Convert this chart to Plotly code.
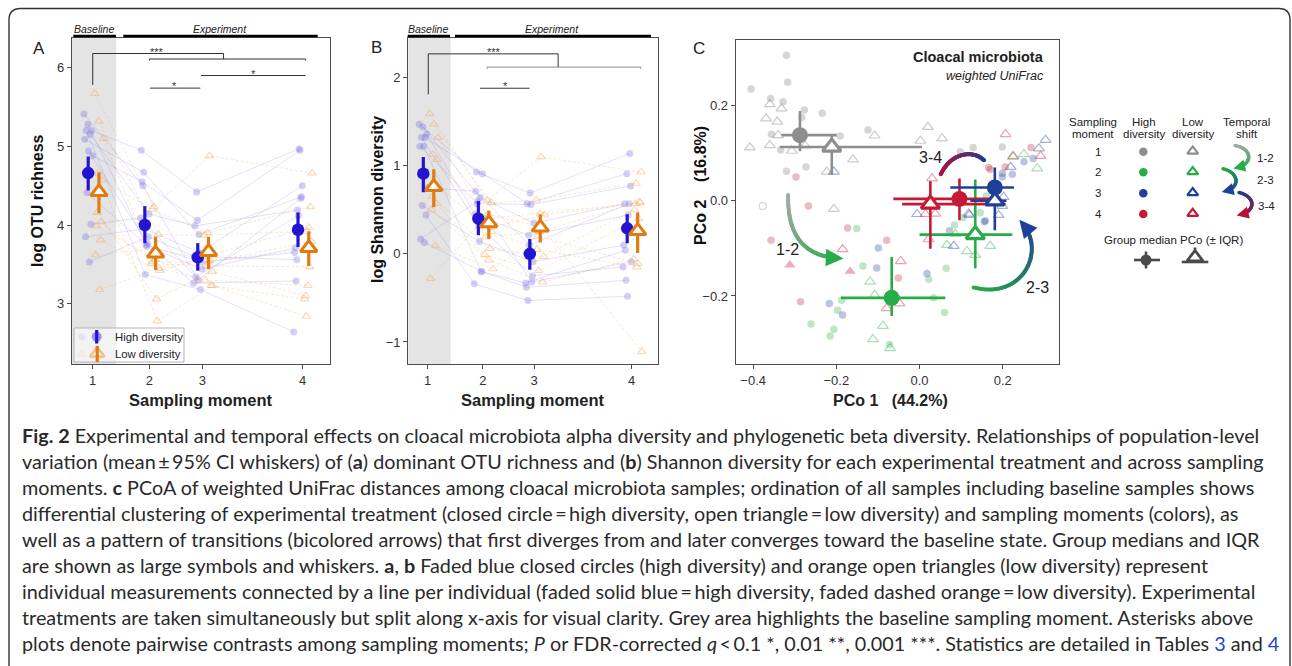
import numpy as np
import plotly.graph_objects as go

W, H = 1292, 666

# ---------------- DATA ----------------
moment_labels = ["1", "2", "3", "4"]
moment_pos = [1.0, 2.0, 2.935, 4.705]   # sampling moments are unevenly spaced in time
baseline_edge = 1.415

# Panel A: log OTU richness (mean and 95% CI)
otu_high_mean = [4.66, 4.00, 3.59, 3.94]
otu_high_lo = [4.44, 3.77, 3.42, 3.72]
otu_high_hi = [4.87, 4.24, 3.77, 4.16]
otu_low_mean = [4.42, 3.64, 3.66, 3.71]
otu_low_lo = [4.15, 3.43, 3.44, 3.48]
otu_low_hi = [4.67, 3.85, 3.85, 3.92]

# Panel A individuals (same index = same individual)
otu_high_m1 = [5.41, 5.28, 5.20, 5.20, 5.15, 5.09, 4.94, 4.88, 4.41, 4.01, 3.85, 3.53]
otu_high_m2 = [4.50, 3.73, 4.95, 3.37, 4.14, 4.67, 3.77, 4.55, 3.75, 4.09, 3.95, 3.85]
otu_high_m3 = [3.30, 3.44, 4.42, 3.18, 3.99, 3.88, 3.26, 4.06, 3.53, 3.34, 3.65, 3.60]
otu_high_m4 = [4.34, 3.71, 4.97, 2.64, 4.19, 4.36, 3.29, 4.95, 3.65, 4.12, 4.50, 3.56]
otu_low_m1 = [5.67, 5.32, 5.10, 4.66, 4.57, 4.16, 4.04, 3.99, 3.81, 3.62, 3.18]
otu_low_m2 = [4.23, 3.88, 3.53, 2.78, 4.20, 3.06, 3.51, 3.56, 3.42, 3.70, 3.45]
otu_low_m3 = [4.88, 3.87, 3.53, 3.23, 3.90, 3.41, 3.48, 3.23, 3.60, 3.55, 3.30]
otu_low_m4 = [4.66, 3.92, 3.79, 2.84, 4.23, 3.10, 3.47, 3.06, 3.97, 3.70, 3.23]

# Panel B: log Shannon diversity (mean and 95% CI)
sha_high_mean = [0.91, 0.40, 0.00, 0.29]
sha_high_lo = [0.70, 0.21, -0.18, 0.12]
sha_high_hi = [1.10, 0.60, 0.17, 0.45]
sha_low_mean = [0.76, 0.35, 0.30, 0.26]
sha_low_lo = [0.53, 0.17, 0.13, 0.01]
sha_low_hi = [0.96, 0.49, 0.45, 0.47]

sha_high_m1 = [1.47, 1.44, 1.36, 1.32, 1.32, 1.22, 1.22, 0.75, 0.55, 0.44, 0.17, 0.13]
sha_high_m2 = [0.93, 0.64, 0.45, 0.32, 0.91, 0.57, -0.20, 0.71, 0.14, -0.34, 0.60, -0.20]
sha_high_m3 = [0.69, 0.35, 0.21, -0.25, 0.57, 0.56, -0.33, 0.10, -0.09, -0.53, -0.32, -0.38]
sha_high_m4 = [1.14, 0.57, 0.44, -0.15, 0.91, 0.77, 0.04, 0.57, 0.10, -0.48, -0.09, -0.30]
sha_low_m1 = [1.59, 1.47, 1.32, 1.13, 1.07, 0.65, 0.57, 0.50, 0.09, -0.28, 0.80]
sha_low_m2 = [0.61, 0.58, 0.40, 0.30, 0.19, 0.06, -0.01, -0.07, -0.17, 0.45, 0.25]
sha_low_m3 = [1.10, 0.61, 0.46, 0.44, 0.25, -0.03, -0.19, -0.32, 0.20, 0.30, 0.05]
sha_low_m4 = [0.93, 0.80, 0.58, 0.57, 0.59, 0.50, 0.40, -0.06, -0.11, -1.11, -0.15]

# Panel C: PCoA (weighted UniFrac) sample scores
pc_m1_high_x = [-0.405, -0.320, -0.358, -0.328, -0.317, -0.277, -0.234, -0.283, -0.356, -0.334, -0.320, -0.273, -0.191, -0.124, 0.098, 0.129, 0.199]
pc_m1_high_y = [0.235, 0.306, 0.215, 0.208, 0.249, 0.191, 0.184, 0.175, 0.140, 0.107, 0.062, 0.071, 0.136, 0.149, 0.103, 0.112, 0.113]
pc_m1_low_x = [-0.360, -0.332, -0.369, -0.342, -0.340, -0.360, -0.408, -0.307, -0.275, -0.160, -0.108, 0.020, 0.002, 0.054, -0.206, -0.223]
pc_m1_low_y = [0.203, 0.194, 0.173, 0.166, 0.138, 0.117, 0.112, 0.105, 0.116, 0.087, 0.137, 0.155, 0.126, 0.131, -0.017, 0.061]
pc_m2_high_x = [-0.151, -0.136, -0.187, -0.197, -0.261, -0.206, -0.215, -0.072, 0.022, 0.034, 0.064, 0.060, 0.084, 0.146, 0.105, 0.160]
pc_m2_high_y = [-0.058, -0.137, -0.209, -0.230, -0.259, -0.270, -0.284, -0.302, -0.165, -0.204, -0.142, -0.235, -0.051, -0.025, -0.035, 0.010]
pc_m2_low_x = [-0.119, -0.108, -0.088, -0.112, -0.071, 0.066, 0.114, 0.170, 0.086, 0.225, 0.251, 0.283, 0.134]
pc_m2_low_y = [-0.170, -0.198, -0.263, -0.291, -0.310, -0.093, -0.106, -0.095, -0.070, 0.092, 0.098, 0.068, -0.114]
pc_m3_high_x = [-0.099, -0.103, -0.217, -0.185, 0.018, 0.072, 0.156, 0.199, 0.223, 0.251, 0.273, 0.158, 0.199]
pc_m3_high_y = [-0.099, -0.141, -0.216, -0.240, -0.153, -0.063, -0.044, 0.050, 0.056, 0.082, 0.089, -0.042, 0.058]
pc_m3_low_x = [-0.206, 0.303, 0.287, 0.219, 0.202, -0.006, 0.120, 0.190, 0.082, 0.199, 0.118]
pc_m3_low_y = [0.061, 0.128, 0.110, 0.071, 0.008, -0.028, -0.030, -0.030, -0.095, -0.011, -0.027]
pc_m4_high_x = [-0.297, -0.267, -0.173, -0.357, -0.079, -0.051, -0.286, 0.206, 0.268, 0.170, 0.166]
pc_m4_high_y = [0.050, -0.011, -0.057, -0.083, -0.083, -0.162, -0.212, 0.071, 0.112, 0.066, 0.070]
pc_m4_low_x = [0.207, 0.291, 0.225, 0.030, -0.185, -0.045, -0.048, -0.079, 0.014, 0.038, 0.022]
pc_m4_low_y = [0.140, 0.094, 0.094, 0.047, -0.102, -0.127, -0.216, -0.226, -0.028, -0.027, -0.081]
pc_m4_filled_x = [-0.312, -0.167]
pc_m4_filled_y = [-0.135, -0.148]
pc_open_circle_x = [-0.377]
pc_open_circle_y = [-0.011]

# Panel C: group medians and IQR (moments 1..4)
med_high_x = [-0.2875, -0.067, 0.181, 0.096]
med_high_y = [0.138, -0.204, 0.028, 0.004]
med_high_x_lo = [-0.332, -0.189, 0.074, -0.063]
med_high_x_hi = [-0.199, 0.062, 0.227, 0.170]
med_high_y_lo = [0.104, -0.242, -0.005, -0.041]
med_high_y_hi = [0.189, -0.118, 0.070, 0.047]
med_low_x = [-0.211, 0.134, 0.181, 0.026]
med_low_y = [0.113, -0.071, 0.000, -0.007]
med_low_x_lo = [-0.336, 0.000, 0.122, -0.042]
med_low_x_hi = [0.006, 0.223, 0.209, 0.207]
med_low_y_lo = [0.054, -0.142, -0.062, -0.101]
med_low_y_hi = [0.136, 0.045, 0.035, 0.041]

caption_lines = [
    "<b>Fig. 2</b> Experimental and temporal effects on cloacal microbiota alpha diversity and phylogenetic beta diversity. Relationships of population-level",
    "variation (mean\u2009±\u200995% CI whiskers) of (<b>a</b>) dominant OTU richness and (<b>b</b>) Shannon diversity for each experimental treatment and across sampling",
    "moments. <b>c</b> PCoA of weighted UniFrac distances among cloacal microbiota samples; ordination of all samples including baseline samples shows",
    "differential clustering of experimental treatment (closed circle\u2009=\u2009high diversity, open triangle\u2009=\u2009low diversity) and sampling moments (colors), as",
    "well as a pattern of transitions (bicolored arrows) that first diverges from and later converges toward the baseline state. Group medians and IQR",
    "are shown as large symbols and whiskers. <b>a</b>, <b>b</b> Faded blue closed circles (high diversity) and orange open triangles (low diversity) represent",
    "individual measurements connected by a line per individual (faded solid blue\u2009=\u2009high diversity, faded dashed orange\u2009=\u2009low diversity). Experimental",
    "treatments are taken simultaneously but split along x-axis for visual clarity. Grey area highlights the baseline sampling moment. Asterisks above",
    "plots denote pairwise contrasts among sampling moments; <i>P</i> or FDR-corrected <i>q</i>\u2009<\u20090.1 *, 0.01 **, 0.001 ***. Statistics are detailed in Tables <span style='color:#2a3fd8'>3</span> and <span style='color:#2a3fd8'>4</span>",
]

# ---------------- STYLE ----------------
HIGH_C = "#2414d2"
LOW_C = "#e27a12"
HIGH_FADE = "rgba(110,100,228,0.30)"
HIGH_LINE = "rgba(110,100,235,0.28)"
LOW_FADE = "rgba(240,170,95,0.45)"
LOW_LINE = "rgba(240,175,105,0.45)"
SHADE = "#e4e4e4"
MC = ["#8e8e8e", "#27ad47", "#1f3f98", "#c41a35"]
FONT = "Liberation Sans, Arial, sans-serif"


def rgba(hexc, a):
    h = hexc.lstrip("#")
    return "rgba(%d,%d,%d,%.2f)" % (int(h[0:2], 16), int(h[2:4], 16), int(h[4:6], 16), a)


def interp_cols(c0, c1, n):
    a = np.array([int(c0[i:i + 2], 16) for i in (1, 3, 5)], float)
    b = np.array([int(c1[i:i + 2], 16) for i in (1, 3, 5)], float)
    out = []
    for t in np.linspace(0, 1, n):
        c = a + (b - a) * t
        out.append("rgb(%d,%d,%d)" % tuple(c))
    return out


def bezier(p0, p1, p2, p3, n=90):
    t = np.linspace(0, 1, n)[:, None]
    p0, p1, p2, p3 = map(np.array, (p0, p1, p2, p3))
    pts = (1 - t) ** 3 * p0 + 3 * (1 - t) ** 2 * t * p1 + 3 * (1 - t) * t ** 2 * p2 + t ** 3 * p3
    return pts[:, 0], pts[:, 1]


fig = go.Figure()
shapes = []
annots = []

HIGH_OFF, LOW_OFF = -0.08, 0.11


def add_alpha_panel(xa, ya, high_rows, low_rows, hm, hlo, hhi, lm, llo, lhi):
    xr, yr = xa, ya
    for rows, base, fade, linec, dash, sym in [
        (high_rows, HIGH_OFF, HIGH_FADE, HIGH_LINE, "solid", "circle"),
        (low_rows, LOW_OFF, LOW_FADE, LOW_LINE, "3px,2px", "triangle-up-open"),
    ]:
        n = len(rows[0])
        spread = np.linspace(-0.075, 0.075, n)
        lx, ly, px_, py_ = [], [], [], []
        for i in range(n):
            for k in range(4):
                xv = moment_pos[k] + base + spread[(i * 5 + k * 3) % n]
                lx.append(xv)
                ly.append(rows[k][i])
                px_.append(xv)
                py_.append(rows[k][i])
            lx.append(None)
            ly.append(None)
        fig.add_trace(go.Scatter(x=lx, y=ly, mode="lines", xaxis=xr, yaxis=yr,
                                 line=dict(color=linec, width=0.7, dash=dash),
                                 hoverinfo="skip", showlegend=False))
        if sym == "circle":
            mk = dict(symbol=sym, size=7, color=fade, line=dict(width=0))
        else:
            mk = dict(symbol=sym, size=7.5, color=fade, line=dict(width=1.1, color=fade))
        fig.add_trace(go.Scatter(x=px_, y=py_, mode="markers", xaxis=xr, yaxis=yr,
                                 marker=mk, hoverinfo="skip", showlegend=False))
    # means with CI
    hx = [p + HIGH_OFF for p in moment_pos]
    lxm = [p + LOW_OFF for p in moment_pos]
    fig.add_trace(go.Scatter(
        x=hx, y=hm, mode="markers", xaxis=xr, yaxis=yr, showlegend=False,
        marker=dict(symbol="circle", size=12.5, color=HIGH_C),
        error_y=dict(type="data", symmetric=False,
                     array=[h - m for h, m in zip(hhi, hm)],
                     arrayminus=[m - l for m, l in zip(hm, hlo)],
                     thickness=3.2, width=0, color=HIGH_C)))
    fig.add_trace(go.Scatter(
        x=lxm, y=lm, mode="markers", xaxis=xr, yaxis=yr, showlegend=False,
        marker=dict(symbol="triangle-up", size=14.5, color="white", line=dict(width=3, color=LOW_C)),
        error_y=dict(type="data", symmetric=False,
                     array=[h - m for h, m in zip(lhi, lm)],
                     arrayminus=[m - l for m, l in zip(lm, llo)],
                     thickness=3.2, width=0, color=LOW_C)))


add_alpha_panel("x", "y",
                [otu_high_m1, otu_high_m2, otu_high_m3, otu_high_m4],
                [otu_low_m1, otu_low_m2, otu_low_m3, otu_low_m4],
                otu_high_mean, otu_high_lo, otu_high_hi, otu_low_mean, otu_low_lo, otu_low_hi)
add_alpha_panel("x2", "y2",
                [sha_high_m1, sha_high_m2, sha_high_m3, sha_high_m4],
                [sha_low_m1, sha_low_m2, sha_low_m3, sha_low_m4],
                sha_high_mean, sha_high_lo, sha_high_hi, sha_low_mean, sha_low_lo, sha_low_hi)

# baseline shading
for xr, yr in [("x", "y"), ("x2", "y2")]:
    shapes.append(dict(type="rect", xref=xr, yref=yr + " domain", x0=0, x1=baseline_edge,
                       y0=0, y1=1, fillcolor=SHADE, line=dict(width=0), layer="below"))


# significance brackets
def bracket_path(xr, yr, pts, color="#333", width=1):
    d = "M " + " L ".join("%f,%f" % p for p in pts)
    shapes.append(dict(type="path", xref=xr, yref=yr, path=d, line=dict(color=color, width=width)))


# Panel A
bracket_path("x", "y", [(1.0, 5.78), (1.0, 6.18), (3.31, 6.18), (3.31, 6.11)])
bracket_path("x", "y", [(2.0, 6.09), (2.0, 6.11), (4.76, 6.11), (4.76, 6.09)])
bracket_path("x", "y", [(2.91, 5.90), (4.76, 5.90)])
bracket_path("x", "y", [(2.01, 5.74), (2.90, 5.74)])
for x, y, t in [(2.13, 6.20, "***"), (3.84, 5.925, "*"), (2.45, 5.765, "*")]:
    annots.append(dict(x=x, y=y, xref="x", yref="y", text=t, showarrow=False,
                       font=dict(size=11, color="#333", family=FONT)))
# Panel B
bracket_path("x2", "y2", [(1.01, 1.81), (1.01, 2.27), (3.37, 2.27), (3.37, 2.12)])
bracket_path("x2", "y2", [(2.08, 2.10), (2.08, 2.12), (4.87, 2.12), (4.87, 2.10)], color="#8a8a8a")
bracket_path("x2", "y2", [(1.95, 1.88), (2.85, 1.88)])
for x, y, t in [(2.21, 2.295, "***"), (2.41, 1.91, "*")]:
    annots.append(dict(x=x, y=y, xref="x2", yref="y2", text=t, showarrow=False,
                       font=dict(size=11, color="#333", family=FONT)))

# ---------------- Panel C ----------------
pc_sets = [
    (pc_m1_high_x, pc_m1_high_y, pc_m1_low_x, pc_m1_low_y),
    (pc_m2_high_x, pc_m2_high_y, pc_m2_low_x, pc_m2_low_y),
    (pc_m3_high_x, pc_m3_high_y, pc_m3_low_x, pc_m3_low_y),
    (pc_m4_high_x, pc_m4_high_y, pc_m4_low_x, pc_m4_low_y),
]
for k, (hx_, hy_, lx_, ly_) in enumerate(pc_sets):
    a = 0.36 if k == 0 else 0.3
    fig.add_trace(go.Scatter(x=hx_, y=hy_, mode="markers", xaxis="x3", yaxis="y3", showlegend=False,
                             marker=dict(symbol="circle", size=7.5, color=rgba(MC[k], a), line=dict(width=0)),
                             hoverinfo="skip"))
    fig.add_trace(go.Scatter(x=lx_, y=ly_, mode="markers", xaxis="x3", yaxis="y3", showlegend=False,
                             marker=dict(symbol="triangle-up-open", size=9.5, color=rgba(MC[k], a + 0.1),
                                         line=dict(width=1.2, color=rgba(MC[k], a + 0.1))),
                             hoverinfo="skip"))
fig.add_trace(go.Scatter(x=pc_m4_filled_x, y=pc_m4_filled_y, mode="markers", xaxis="x3", yaxis="y3",
                         showlegend=False, hoverinfo="skip",
                         marker=dict(symbol="triangle-up", size=10, color=rgba(MC[3], 0.35), line=dict(width=0))))
fig.add_trace(go.Scatter(x=pc_open_circle_x, y=pc_open_circle_y, mode="markers", xaxis="x3", yaxis="y3",
                         showlegend=False, hoverinfo="skip",
                         marker=dict(symbol="circle-open", size=7, color=rgba(MC[0], 0.4), line=dict(width=1.1))))

for k in [0, 1, 3, 2]:
    fig.add_trace(go.Scatter(
        x=[med_high_x[k]], y=[med_high_y[k]], mode="markers", xaxis="x3", yaxis="y3", showlegend=False,
        marker=dict(symbol="circle", size=16, color=MC[k]),
        error_x=dict(type="data", symmetric=False, array=[med_high_x_hi[k] - med_high_x[k]],
                     arrayminus=[med_high_x[k] - med_high_x_lo[k]], thickness=2.6, width=0, color=MC[k]),
        error_y=dict(type="data", symmetric=False, array=[med_high_y_hi[k] - med_high_y[k]],
                     arrayminus=[med_high_y[k] - med_high_y_lo[k]], thickness=2.6, width=0, color=MC[k])))
    fig.add_trace(go.Scatter(
        x=[med_low_x[k]], y=[med_low_y[k]], mode="markers", xaxis="x3", yaxis="y3", showlegend=False,
        marker=dict(symbol="triangle-up", size=16, color="white", line=dict(width=3.2, color=MC[k])),
        error_x=dict(type="data", symmetric=False, array=[med_low_x_hi[k] - med_low_x[k]],
                     arrayminus=[med_low_x[k] - med_low_x_lo[k]], thickness=2.6, width=0, color=MC[k]),
        error_y=dict(type="data", symmetric=False, array=[med_low_y_hi[k] - med_low_y[k]],
                     arrayminus=[med_low_y[k] - med_low_y_lo[k]], thickness=2.6, width=0, color=MC[k])))


def grad_arrow(p0, p1, p2, p3, c0, c1, xr, yr, size, headw, n=110, hs=1.0):
    xs, ys = bezier(p0, p1, p2, p3, n)
    cols = interp_cols(c0, c1, n)
    cut = n - 6
    fig.add_trace(go.Scatter(x=xs[:cut], y=ys[:cut], mode="markers", xaxis=xr, yaxis=yr,
                             showlegend=False, hoverinfo="skip",
                             marker=dict(size=size, color=cols[:cut], line=dict(width=0))))
    annots.append(dict(x=xs[-1], y=ys[-1], ax=xs[-9], ay=ys[-9], xref=xr, yref=yr,
                       axref=xr, ayref=yr, text="", showarrow=True, arrowhead=2,
                       arrowsize=hs, arrowwidth=headw, arrowcolor=c1))


# arrows inside panel C
grad_arrow((-0.316, 0.012), (-0.318, -0.09), (-0.26, -0.12), (-0.183, -0.121),
           "#a8a8a8", "#27ad47", "x3", "y3", 4.0, 3.2, hs=1.1)
grad_arrow((0.130, -0.182), (0.25, -0.21), (0.31, -0.10), (0.240, -0.040),
           "#27ad47", "#1f3f98", "x3", "y3", 4.0, 3.2, hs=1.1)
grad_arrow((0.155, 0.085), (0.13, 0.108), (0.07, 0.103), (0.047, 0.047),
           "#1f3f98", "#b5123a", "x3", "y3", 4.0, 3.2, hs=1.1)
for x, y, t in [(-0.317, -0.102, "1-2"), (0.283, -0.182, "2-3"), (0.027, 0.091, "3-4")]:
    annots.append(dict(x=x, y=y, xref="x3", yref="y3", text=t, showarrow=False,
                       font=dict(size=16, color="#222", family=FONT)))


# ---------------- overlay (pixel coords) decorations ----------------
def T(x, y, text, size=12, anchor="center", color="#222", family=FONT, ya="middle"):
    annots.append(dict(x=x, y=y, xref="x4", yref="y4", text=text, showarrow=False,
                       xanchor=anchor, yanchor=ya, font=dict(size=size, color=color, family=family)))


def L(x0, y0, x1, y1, color="#111", width=1.0):
    shapes.append(dict(type="line", xref="x4", yref="y4", x0=x0, y0=y0, x1=x1, y1=y1,
                       line=dict(color=color, width=width)))


# outer rounded frame
frame = "M 9,700 L 9,20 Q 9,8.5 20.5,8.5 L 1279,8.5 Q 1290,8.5 1290,20 L 1290,700"
shapes.append(dict(type="path", xref="x4", yref="y4", path=frame, line=dict(color="#333", width=1.4)))

# panel letters
T(39, 48, "A", 17)
T(376, 47, "B", 17)
T(699, 48, "C", 17)

# Baseline / Experiment headers
for cx_b, l0, l1, cx_e, e0, e1 in [(94, 73.3, 116, 220, 123.3, 317.7), (428, 407.7, 450, 551.7, 455, 651)]:
    T(cx_b, 29, "<i>Baseline</i>", 10.5)
    T(cx_e, 29, "<i>Experiment</i>", 10.5)
    L(l0, 36, l1, 36, "#000", 2.6)
    L(e0, 36, e1, 36, "#000", 2.6)

# axis titles
T(201, 399.5, "<b>Sampling moment</b>", 16.5)
T(533, 399.5, "<b>Sampling moment</b>", 16.5)
T(890, 400, "<b>PCo 1\u00a0\u00a0\u00a0(44.2%)</b>", 16)
annots.append(dict(x=37, y=201, xref="x4", yref="y4", text="<b>log OTU richness</b>", showarrow=False,
                   textangle=-90, font=dict(size=16, color="#111", family=FONT)))
annots.append(dict(x=377, y=200, xref="x4", yref="y4", text="<b>log Shannon diversity</b>", showarrow=False,
                   textangle=-90, font=dict(size=16, color="#111", family=FONT)))
annots.append(dict(x=700, y=186, xref="x4", yref="y4", text="<b>PCo 2\u00a0\u00a0\u00a0\u00a0(16.8%)</b>",
                   showarrow=False, textangle=-90, font=dict(size=16, color="#111", family=FONT)))

# panel C titles
T(1046, 57, "<b>Cloacal microbiota</b>", 14.5, anchor="right")
T(1046, 76, "<i>weighted UniFrac</i>", 12.5, anchor="right")

# legend panel A
shapes.append(dict(type="rect", xref="x4", yref="y4", x0=74, y0=328, x1=184, y1=362,
                   fillcolor="rgba(255,255,255,0.55)", line=dict(color="#b5b5b5", width=1)))
fig.add_trace(go.Scatter(x=[81.7], y=[336.7], mode="markers", xaxis="x4", yaxis="y4", showlegend=False,
                         marker=dict(size=6.5, color=HIGH_FADE)))
fig.add_trace(go.Scatter(x=[81.7], y=[354.3], mode="markers", xaxis="x4", yaxis="y4", showlegend=False,
                         marker=dict(symbol="triangle-up-open", size=7, color=LOW_FADE, line=dict(width=1.1, color=LOW_FADE))))
L(96.7, 330, 96.7, 343.5, HIGH_C, 3.2)
L(97.2, 346, 97.2, 362, LOW_C, 3.2)
fig.add_trace(go.Scatter(x=[96.7], y=[336.7], mode="markers", xaxis="x4", yaxis="y4", showlegend=False,
                         marker=dict(size=10, color=HIGH_C)))
fig.add_trace(go.Scatter(x=[97.2], y=[353.5], mode="markers", xaxis="x4", yaxis="y4", showlegend=False,
                         marker=dict(symbol="triangle-up", size=12.5, color="white", line=dict(width=2.8, color=LOW_C))))
T(112.5, 337, "High diversity", 11.3, anchor="left")
T(112.5, 354, "Low diversity", 11.3, anchor="left")

# legend panel C
for cx, l1, l2 in [(1093.3, "Sampling", "moment"), (1144.3, "High", "diversity"),
                   (1192.7, "Low", "diversity"), (1246.7, "Temporal", "shift")]:
    T(cx, 121.7, l1, 11.5)
    T(cx, 134.2, l2, 11.5)
row_y = [151.7, 172.3, 193.3, 214.0]
for k in range(4):
    T(1098.3, row_y[k], moment_labels[k], 11.5)
fig.add_trace(go.Scatter(x=[1143.3] * 4, y=row_y, mode="markers", xaxis="x4", yaxis="y4", showlegend=False,
                         marker=dict(size=8.5, color=MC)))
fig.add_trace(go.Scatter(x=[1192.7] * 4, y=[v - 0.5 for v in row_y], mode="markers", xaxis="x4", yaxis="y4",
                         showlegend=False,
                         marker=dict(symbol="triangle-up-open", size=9.5, color=MC, line=dict(width=2.2, color=MC))))
grad_arrow((1235, 145.5), (1254, 149), (1253, 166), (1233.3, 168.5), "#a8a8a8", "#27ad47", "x4", "y4", 3.4, 2.4, 60)
grad_arrow((1223, 168.8), (1241, 173), (1240, 190), (1221.7, 192), "#27ad47", "#1f3f98", "x4", "y4", 3.4, 2.4, 60)
grad_arrow((1239, 192.5), (1257, 197), (1256, 213), (1236.7, 215.5), "#1f3f98", "#b5123a", "x4", "y4", 3.4, 2.4, 60)
T(1265, 157.7, "1-2", 11.5)
T(1265, 180.0, "2-3", 11.5)
T(1266.5, 205.7, "3-4", 11.5)
T(1173.3, 240, "Group median PCo (± IQR)", 11.5)
L(1134, 260, 1160, 260, "#4a4a4a", 2.6)
L(1146, 251.5, 1146, 268.5, "#4a4a4a", 2.6)
fig.add_trace(go.Scatter(x=[1146], y=[260], mode="markers", xaxis="x4", yaxis="y4", showlegend=False,
                         marker=dict(size=11, color="#4a4a4a")))
L(1181.7, 262, 1208.3, 262, "#4a4a4a", 2.6)
L(1195, 247.5, 1195, 252, "#4a4a4a", 2.6)
fig.add_trace(go.Scatter(x=[1195], y=[257.5], mode="markers", xaxis="x4", yaxis="y4", showlegend=False,
                         marker=dict(symbol="triangle-up", size=14, color="white",
                                     line=dict(width=2.8, color="#4a4a4a"))))

# caption
for i, line in enumerate(caption_lines):
    T(20, 435 + 26 * i, line, 19.8, anchor="left", color="#2a2a2a", family="Lato, Open Sans, sans-serif")

# ---------------- LAYOUT ----------------
ax_common = dict(showline=True, linecolor="#4d4d4d", linewidth=1.2, mirror=True, ticks="outside",
                 ticklen=4, tickwidth=1, tickcolor="#4d4d4d", showgrid=False, zeroline=False,
                 tickfont=dict(size=13, color="#333", family=FONT), fixedrange=True)

fig.update_layout(
    width=W, height=H, margin=dict(l=0, r=0, t=0, b=0),
    paper_bgcolor="white", plot_bgcolor="rgba(0,0,0,0)", showlegend=False,
    font=dict(family=FONT, color="#222"),
    xaxis=dict(domain=[72 / W, 330 / W], range=[0.634, 5.19], tickvals=moment_pos, ticktext=moment_labels,
               anchor="y", **ax_common),
    yaxis=dict(domain=[1 - 364 / H, 1 - 38 / H], range=[2.234, 6.377], tickvals=[3, 4, 5, 6],
               anchor="x", **ax_common),
    xaxis2=dict(domain=[408.3 / W, 658.3 / W], range=[0.647, 5.19], tickvals=moment_pos, ticktext=moment_labels,
                anchor="y2", **ax_common),
    yaxis2=dict(domain=[1 - 364 / H, 1 - 38 / H], range=[-1.25, 2.45], tickvals=[-1, 0, 1, 2],
                anchor="x2", **ax_common),
    xaxis3=dict(domain=[735.7 / W, 1059.3 / W], range=[-0.442, 0.336], tickvals=[-0.4, -0.2, 0.0, 0.2],
                tickformat=".1f", anchor="y3", **ax_common),
    yaxis3=dict(domain=[1 - 364 / H, 1 - 40 / H], range=[-0.343, 0.338], tickvals=[-0.2, 0.0, 0.2],
                tickformat=".1f", anchor="x3", **ax_common),
    xaxis4=dict(domain=[0, 1], range=[0, W], visible=False, anchor="y4", fixedrange=True),
    yaxis4=dict(domain=[0, 1], range=[H, 0], visible=False, anchor="x4", fixedrange=True),
    shapes=shapes, annotations=annots,
)

fig.write_html("out.html", config={"displayModeBar": False},
               post_script="document.body.style.margin='0';document.body.style.overflow='hidden';")
